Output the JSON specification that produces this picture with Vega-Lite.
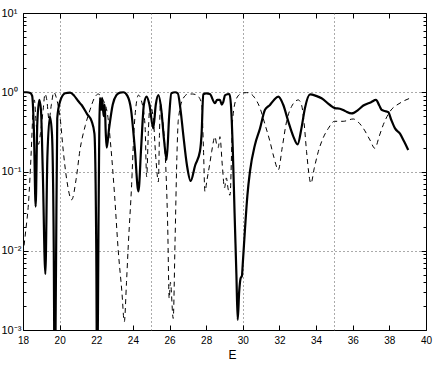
{
  "$schema": "https://vega.github.io/schema/vega-lite/v6.json",
  "width": 403,
  "height": 317,
  "autosize": "none",
  "padding": {"left": 23, "top": 13, "right": 10, "bottom": 40},
  "background": "white",
  "config": {
    "view": {"stroke": "#000", "strokeWidth": 1},
    "axis": {
      "domain": false,
      "grid": false,
      "labelFont": "Liberation Sans",
      "labelFontSize": 10,
      "labelColor": "#000",
      "tickColor": "#000",
      "gridColor": "#555",
      "gridDash": [1, 3],
      "gridWidth": 1,
      "titleFont": "Liberation Sans",
      "titleFontWeight": "normal",
      "titleFontSize": 12,
      "titleColor": "#000",
      "labelOverlap": false,
      "labelFlush": false
    }
  },
  "datasets": {
    "solid": [
      {"E": 18.0, "T": 1.0}, {"E": 18.2, "T": 1.0}, {"E": 18.4, "T": 0.98}, {"E": 18.5, "T": 0.9},
      {"E": 18.6, "T": 0.3}, {"E": 18.69, "T": 0.036}, {"E": 18.78, "T": 0.4}, {"E": 18.89, "T": 0.8},
      {"E": 18.98, "T": 0.6}, {"E": 19.08, "T": 0.1}, {"E": 19.22, "T": 0.0051}, {"E": 19.33, "T": 0.15},
      {"E": 19.47, "T": 0.49}, {"E": 19.58, "T": 0.3}, {"E": 19.68, "T": 0.01}, {"E": 19.73, "T": 0.0001},
      {"E": 19.8, "T": 0.005}, {"E": 19.87, "T": 0.47}, {"E": 20.02, "T": 0.76}, {"E": 20.3, "T": 0.97},
      {"E": 20.57, "T": 0.99}, {"E": 20.8, "T": 0.9}, {"E": 21.0, "T": 0.78}, {"E": 21.2, "T": 0.69},
      {"E": 21.5, "T": 0.53}, {"E": 21.75, "T": 0.43}, {"E": 21.9, "T": 0.3}, {"E": 22.0, "T": 0.01},
      {"E": 22.05, "T": 0.0001}, {"E": 22.12, "T": 0.02}, {"E": 22.2, "T": 0.85}, {"E": 22.27, "T": 0.6},
      {"E": 22.32, "T": 0.85}, {"E": 22.4, "T": 0.5}, {"E": 22.46, "T": 0.7}, {"E": 22.52, "T": 0.3},
      {"E": 22.57, "T": 0.2}, {"E": 22.7, "T": 0.35}, {"E": 22.9, "T": 0.7}, {"E": 23.1, "T": 0.92},
      {"E": 23.3, "T": 0.99}, {"E": 23.48, "T": 1.0}, {"E": 23.7, "T": 0.9}, {"E": 23.9, "T": 0.6},
      {"E": 24.1, "T": 0.2}, {"E": 24.3, "T": 0.056}, {"E": 24.45, "T": 0.2}, {"E": 24.6, "T": 0.7},
      {"E": 24.75, "T": 0.88}, {"E": 24.9, "T": 0.7}, {"E": 25.11, "T": 0.35}, {"E": 25.25, "T": 0.7},
      {"E": 25.39, "T": 0.92}, {"E": 25.55, "T": 0.6}, {"E": 25.7, "T": 0.25}, {"E": 25.84, "T": 0.14},
      {"E": 25.98, "T": 0.5}, {"E": 26.1, "T": 0.97}, {"E": 26.3, "T": 1.0}, {"E": 26.45, "T": 0.97},
      {"E": 26.6, "T": 0.6}, {"E": 26.75, "T": 0.29}, {"E": 26.95, "T": 0.12}, {"E": 27.15, "T": 0.076},
      {"E": 27.4, "T": 0.12}, {"E": 27.66, "T": 0.18}, {"E": 27.75, "T": 0.3}, {"E": 27.84, "T": 0.94},
      {"E": 28.0, "T": 0.97}, {"E": 28.2, "T": 0.95}, {"E": 28.48, "T": 0.73}, {"E": 28.6, "T": 0.8},
      {"E": 28.75, "T": 0.8}, {"E": 28.85, "T": 0.7}, {"E": 28.93, "T": 0.75}, {"E": 29.03, "T": 0.92},
      {"E": 29.27, "T": 0.95}, {"E": 29.35, "T": 0.7}, {"E": 29.45, "T": 0.2}, {"E": 29.55, "T": 0.03},
      {"E": 29.65, "T": 0.005}, {"E": 29.72, "T": 0.00134}, {"E": 29.8, "T": 0.003}, {"E": 29.88, "T": 0.0045},
      {"E": 29.95, "T": 0.0048}, {"E": 30.0, "T": 0.007}, {"E": 30.12, "T": 0.019}, {"E": 30.25, "T": 0.05},
      {"E": 30.39, "T": 0.1}, {"E": 30.66, "T": 0.216}, {"E": 30.94, "T": 0.35}, {"E": 31.21, "T": 0.6},
      {"E": 31.48, "T": 0.69}, {"E": 31.7, "T": 0.8}, {"E": 31.94, "T": 0.88}, {"E": 32.2, "T": 0.7},
      {"E": 32.48, "T": 0.43}, {"E": 32.75, "T": 0.28}, {"E": 32.99, "T": 0.22}, {"E": 33.2, "T": 0.35},
      {"E": 33.39, "T": 0.63}, {"E": 33.67, "T": 0.94}, {"E": 34.0, "T": 0.9}, {"E": 34.3, "T": 0.84},
      {"E": 34.76, "T": 0.69}, {"E": 35.03, "T": 0.63}, {"E": 35.3, "T": 0.62}, {"E": 35.58, "T": 0.58},
      {"E": 35.94, "T": 0.54}, {"E": 36.3, "T": 0.6}, {"E": 36.58, "T": 0.68}, {"E": 37.0, "T": 0.75},
      {"E": 37.27, "T": 0.8}, {"E": 37.45, "T": 0.68}, {"E": 37.58, "T": 0.6}, {"E": 37.75, "T": 0.58},
      {"E": 37.94, "T": 0.56}, {"E": 38.1, "T": 0.45}, {"E": 38.31, "T": 0.35}, {"E": 38.58, "T": 0.3},
      {"E": 38.8, "T": 0.24}, {"E": 39.03, "T": 0.187}
    ],
    "dashed": [
      {"E": 18.0, "T": 0.009}, {"E": 18.15, "T": 0.018}, {"E": 18.3, "T": 0.04}, {"E": 18.45, "T": 0.18},
      {"E": 18.55, "T": 0.6}, {"E": 18.62, "T": 0.8}, {"E": 18.72, "T": 0.4}, {"E": 18.85, "T": 0.22},
      {"E": 18.95, "T": 0.3}, {"E": 19.1, "T": 0.6}, {"E": 19.2, "T": 0.95}, {"E": 19.3, "T": 0.8},
      {"E": 19.42, "T": 0.45}, {"E": 19.55, "T": 0.7}, {"E": 19.68, "T": 1.0}, {"E": 19.85, "T": 0.8},
      {"E": 20.02, "T": 0.49}, {"E": 20.2, "T": 0.18}, {"E": 20.39, "T": 0.078}, {"E": 20.66, "T": 0.044},
      {"E": 20.9, "T": 0.08}, {"E": 21.11, "T": 0.187}, {"E": 21.4, "T": 0.38}, {"E": 21.66, "T": 0.6},
      {"E": 21.9, "T": 0.85}, {"E": 22.11, "T": 0.95}, {"E": 22.3, "T": 0.85}, {"E": 22.6, "T": 0.55},
      {"E": 22.8, "T": 0.2}, {"E": 23.0, "T": 0.05}, {"E": 23.2, "T": 0.01}, {"E": 23.4, "T": 0.003},
      {"E": 23.53, "T": 0.00127}, {"E": 23.65, "T": 0.004}, {"E": 23.75, "T": 0.012}, {"E": 23.93, "T": 0.068},
      {"E": 24.05, "T": 0.3}, {"E": 24.2, "T": 0.76}, {"E": 24.3, "T": 0.92}, {"E": 24.45, "T": 0.8},
      {"E": 24.66, "T": 0.39}, {"E": 24.75, "T": 0.086}, {"E": 24.85, "T": 0.35}, {"E": 24.93, "T": 0.69},
      {"E": 25.1, "T": 0.5}, {"E": 25.25, "T": 0.15}, {"E": 25.39, "T": 0.074}, {"E": 25.45, "T": 0.3},
      {"E": 25.5, "T": 0.73}, {"E": 25.6, "T": 0.5}, {"E": 25.75, "T": 0.19}, {"E": 25.9, "T": 0.02},
      {"E": 25.98, "T": 0.0025}, {"E": 26.05, "T": 0.004}, {"E": 26.2, "T": 0.0014}, {"E": 26.3, "T": 0.013},
      {"E": 26.4, "T": 0.15}, {"E": 26.48, "T": 0.45}, {"E": 26.75, "T": 0.84}, {"E": 27.02, "T": 0.95},
      {"E": 27.25, "T": 0.95}, {"E": 27.48, "T": 0.92}, {"E": 27.75, "T": 0.73}, {"E": 27.85, "T": 0.2},
      {"E": 27.93, "T": 0.056}, {"E": 28.05, "T": 0.08}, {"E": 28.2, "T": 0.127}, {"E": 28.3, "T": 0.178},
      {"E": 28.48, "T": 0.275}, {"E": 28.57, "T": 0.22}, {"E": 28.66, "T": 0.2}, {"E": 28.75, "T": 0.275},
      {"E": 28.88, "T": 0.12}, {"E": 29.0, "T": 0.062}, {"E": 29.1, "T": 0.083}, {"E": 29.2, "T": 0.06},
      {"E": 29.3, "T": 0.05}, {"E": 29.45, "T": 0.47}, {"E": 29.66, "T": 0.84}, {"E": 29.94, "T": 0.97},
      {"E": 30.2, "T": 0.99}, {"E": 30.39, "T": 0.97}, {"E": 30.65, "T": 0.85}, {"E": 30.94, "T": 0.63},
      {"E": 31.2, "T": 0.4}, {"E": 31.48, "T": 0.24}, {"E": 31.7, "T": 0.15}, {"E": 31.94, "T": 0.105},
      {"E": 32.15, "T": 0.2}, {"E": 32.39, "T": 0.43}, {"E": 32.66, "T": 0.66}, {"E": 33.03, "T": 0.8},
      {"E": 33.2, "T": 0.7}, {"E": 33.35, "T": 0.4}, {"E": 33.48, "T": 0.178}, {"E": 33.72, "T": 0.071},
      {"E": 33.9, "T": 0.11}, {"E": 34.12, "T": 0.178}, {"E": 34.4, "T": 0.27}, {"E": 34.67, "T": 0.35},
      {"E": 35.0, "T": 0.43}, {"E": 35.48, "T": 0.43}, {"E": 36.03, "T": 0.46}, {"E": 36.3, "T": 0.42},
      {"E": 36.58, "T": 0.35}, {"E": 36.94, "T": 0.25}, {"E": 37.21, "T": 0.196}, {"E": 37.45, "T": 0.28},
      {"E": 37.67, "T": 0.39}, {"E": 38.03, "T": 0.57}, {"E": 38.58, "T": 0.73}, {"E": 39.12, "T": 0.84}
    ]
  },
  "layer": [
    {
      "data": {"name": "dashed"},
      "mark": {"type": "line", "strokeOpacity": 0},
      "encoding": {
        "x": {"field": "E", "type": "quantitative", "scale": {"domain": [18, 40], "nice": false, "zero": false},
              "axis": {"orient": "bottom", "values": [20, 25, 30, 35], "grid": true, "ticks": false, "labels": false, "title": null, "zindex": 0}},
        "y": {"field": "T", "type": "quantitative", "scale": {"type": "log", "domain": [0.001, 10], "nice": false},
              "axis": {"orient": "left", "values": [0.01, 0.1, 1], "grid": true, "ticks": false, "labels": false, "title": null, "zindex": 0}}
      }
    },
    {
      "data": {"name": "solid"},
      "mark": {"type": "line", "color": "#000", "strokeWidth": 2.2, "clip": true, "interpolate": "monotone"},
      "encoding": {
        "x": {"field": "E", "type": "quantitative", "scale": {"domain": [18, 40], "nice": false, "zero": false},
              "axis": {"orient": "bottom", "values": [18, 20, 22, 24, 26, 28, 30, 32, 34, 36, 38, 40], "tickSize": -5, "labelPadding": 10, "title": "E", "titlePadding": 4, "titleX": 209}},
        "y": {"field": "T", "type": "quantitative", "scale": {"type": "log", "domain": [0.001, 10], "nice": false},
              "axis": {"orient": "left", "values": [0.001, 0.01, 0.1, 1, 10], "tickSize": -5, "labelPadding": 27, "labelAlign": "left", "labelFontSize": 11, "title": null,
                       "labelExpr": "datum.value > 5 ? '10¹' : datum.value > 0.5 ? '10⁰' : datum.value > 0.05 ? '10⁻¹' : datum.value > 0.005 ? '10⁻²' : '10⁻³'"}}
      }
    },
    {
      "data": {"name": "dashed"},
      "mark": {"type": "line", "color": "#000", "strokeWidth": 1, "strokeDash": [5, 4], "clip": true, "interpolate": "monotone"},
      "encoding": {
        "x": {"field": "E", "type": "quantitative", "scale": {"domain": [18, 40], "nice": false, "zero": false},
              "axis": {"orient": "top", "values": [18, 20, 22, 24, 26, 28, 30, 32, 34, 36, 38, 40], "tickSize": -5, "labels": false, "title": null}},
        "y": {"field": "T", "type": "quantitative", "scale": {"type": "log", "domain": [0.001, 10], "nice": false},
              "axis": {"orient": "right", "values": [0.001, 0.01, 0.1, 1, 10], "tickSize": -5, "labels": false, "title": null}}
      }
    },
    {
      "data": {"name": "dashed"},
      "mark": {"type": "line", "strokeOpacity": 0},
      "encoding": {
        "x": {"field": "E", "type": "quantitative", "scale": {"domain": [18, 40], "nice": false, "zero": false}, "axis": null},
        "y": {"field": "T", "type": "quantitative", "scale": {"type": "log", "domain": [0.001, 10], "nice": false},
              "axis": {"orient": "left", "values": [0.002, 0.003, 0.004, 0.005, 0.006, 0.007, 0.008, 0.009, 0.02, 0.03, 0.04, 0.05, 0.06, 0.07, 0.08, 0.09, 0.2, 0.3, 0.4, 0.5, 0.6, 0.7, 0.8, 0.9, 2, 3, 4, 5, 6, 7, 8, 9], "tickSize": -3, "labels": false, "title": null}}
      }
    },
    {
      "data": {"name": "dashed"},
      "mark": {"type": "line", "strokeOpacity": 0},
      "encoding": {
        "x": {"field": "E", "type": "quantitative", "scale": {"domain": [18, 40], "nice": false, "zero": false}, "axis": null},
        "y": {"field": "T", "type": "quantitative", "scale": {"type": "log", "domain": [0.001, 10], "nice": false},
              "axis": {"orient": "right", "values": [0.002, 0.003, 0.004, 0.005, 0.006, 0.007, 0.008, 0.009, 0.02, 0.03, 0.04, 0.05, 0.06, 0.07, 0.08, 0.09, 0.2, 0.3, 0.4, 0.5, 0.6, 0.7, 0.8, 0.9, 2, 3, 4, 5, 6, 7, 8, 9], "tickSize": -3, "labels": false, "title": null}}
      }
    }
  ],
  "resolve": {"scale": {"x": "independent", "y": "independent"}, "axis": {"x": "independent", "y": "independent"}}
}
